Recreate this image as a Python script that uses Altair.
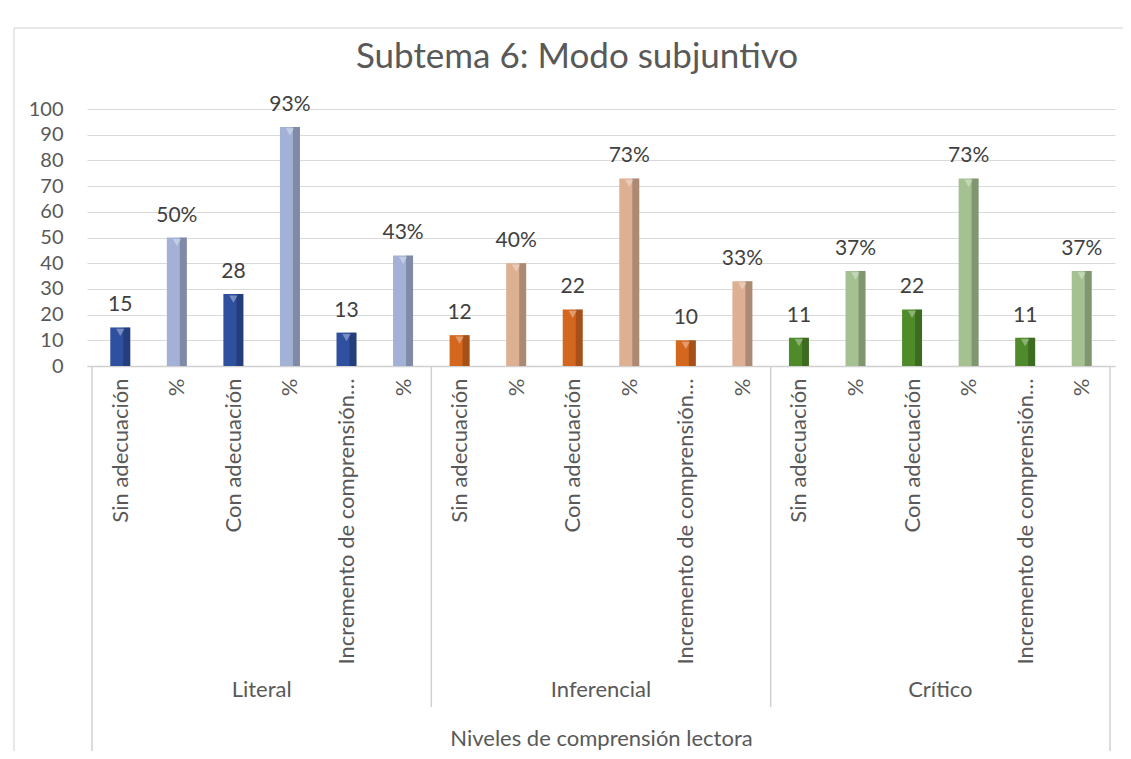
import json
import altair as alt
import pandas as pd

# ---- data ----
niveles = ["Literal", "Inferencial", "Crítico"]
categorias = ["Sin adecuación", "%", "Con adecuación", "%", "Incremento de comprensión…", "%"]
literal = [15, 50, 28, 93, 13, 43]
inferencial = [12, 40, 22, 73, 10, 33]
critico = [11, 37, 22, 73, 11, 37]
es_porcentaje = [False, True, False, True, False, True]
y_ticks = list(range(0, 101, 10))
titulo = "Subtema 6: Modo subjuntivo"
titulo_eje = "Niveles de comprensión lectora"

series = ["Literal", "Literal %", "Inferencial", "Inferencial %", "Crítico", "Crítico %"]
colores = ["#2F509E", "#A2B1D5", "#D3671E", "#DDB093", "#4F8B2B", "#A5C191"]

rows = []
for g, (nivel, vals) in enumerate(zip(niveles, [literal, inferencial, critico])):
    for i, (cat, v, pct) in enumerate(zip(categorias, vals, es_porcentaje)):
        rows.append({
            "idx": g * 6 + i,
            "nivel": nivel,
            "categoria": cat,
            "valor": v,
            "serie": nivel + (" %" if pct else ""),
            "etiqueta": f"{v}%" if pct else f"{v}",
        })
df = pd.DataFrame(rows)

grupos = pd.DataFrame({"nivel": niveles, "idx": [g * 6 + 2.5 for g in range(len(niveles))]})
sep_int = pd.DataFrame({"idx": [5.5, 11.5]})
sep_ext = pd.DataFrame({"idx": [-0.5, 17.5]})
tit = pd.DataFrame({"texto": [titulo]})

W, H = 1028, 257
FONT = "Lato"
GRAY = "#595959"
LINE = "#D0D0D0"

xscale = alt.Scale(domain=[-0.5, 17.5], nice=False, zero=False)
yscale = alt.Scale(domain=[0, 100], nice=False)

label_expr = json.dumps(categorias, ensure_ascii=False) + "[datum.value % 6]"

base = alt.Chart(df)

X_AXIS = alt.Axis(
    values=list(range(18)), labelExpr=label_expr, labelAngle=-90,
    labelAlign="right", labelBaseline="middle", labelPadding=12,
    labelFontSize=22, labelColor=GRAY, labelFont=FONT, labelLimit=400,
    ticks=False, grid=False, domainColor=LINE, domainWidth=1.5,
    title=titulo_eje, titleFont=FONT,
    titleFontSize=22, titleFontWeight="normal", titleColor=GRAY,
    titleY=372, titleBaseline="middle", labelOverlap=False)
Y_AXIS = alt.Axis(
    values=y_ticks, tickCount=11, title=None, domain=False, ticks=False,
    gridColor="#DADADA", gridWidth=1.2, labelFontSize=20, labelColor=GRAY,
    labelFont=FONT, labelPadding=24, labelOverlap=False, labelSeparation=0)

XE = alt.X("idx:Q", scale=xscale, axis=X_AXIS)
YE = alt.Y("valor:Q", scale=yscale, axis=Y_AXIS)

bars = base.mark_bar(size=20).encode(
    x=XE, y=YE,
    color=alt.Color("serie:N", scale=alt.Scale(domain=series, range=colores), legend=None),
)

shade = base.mark_bar(size=7, xOffset=6.5, color="black", opacity=0.22).encode(x=XE, y=YE)

tops = base.mark_point(shape="triangle-down", filled=True, size=70, color="white",
                       opacity=0.35, yOffset=5).encode(x=XE, y=YE)

labels = base.mark_text(baseline="bottom", dy=-12, fontSize=21, font=FONT, color="#404040").encode(
    x=XE, y=YE, text="etiqueta:N",
)

group_text = alt.Chart(grupos).mark_text(fontSize=22, font=FONT, color=GRAY, baseline="middle").encode(
    x=XE, y=alt.value(581), text="nivel:N",
)

rules_in = alt.Chart(sep_int).mark_rule(color=LINE, strokeWidth=1.5).encode(
    x=XE, y=alt.value(H), y2=alt.value(598),
)
rules_out = alt.Chart(sep_ext).mark_rule(color=LINE, strokeWidth=1.5).encode(
    x=XE, y=alt.value(H), y2=alt.value(650),
)

border_left = alt.Chart(tit).mark_rule(color="#E0E0E0", strokeWidth=1.5).encode(
    x=alt.value(-73), y=alt.value(-81), y2=alt.value(650),
)
border_top = alt.Chart(tit).mark_rule(color="#E0E0E0", strokeWidth=1.5).encode(
    x=alt.value(-73), x2=alt.value(1040), y=alt.value(-81),
)

title_text = alt.Chart(tit).mark_text(font=FONT, fontSize=35, color=GRAY,
                                      baseline="middle", align="center").encode(
    x=alt.value(490), y=alt.value(-52), text="texto:N",
)

chart = alt.layer(
    bars, border_left, border_top, title_text, shade, tops, labels, group_text, rules_in, rules_out
).properties(
    width=W, height=H,
    autosize=alt.AutoSizeParams(type="none"),
    padding={"left": 79, "top": 101, "right": 8, "bottom": 385},
).configure_view(stroke=None)

chart.save("out.html", embed_options={"renderer": "svg", "actions": False})
